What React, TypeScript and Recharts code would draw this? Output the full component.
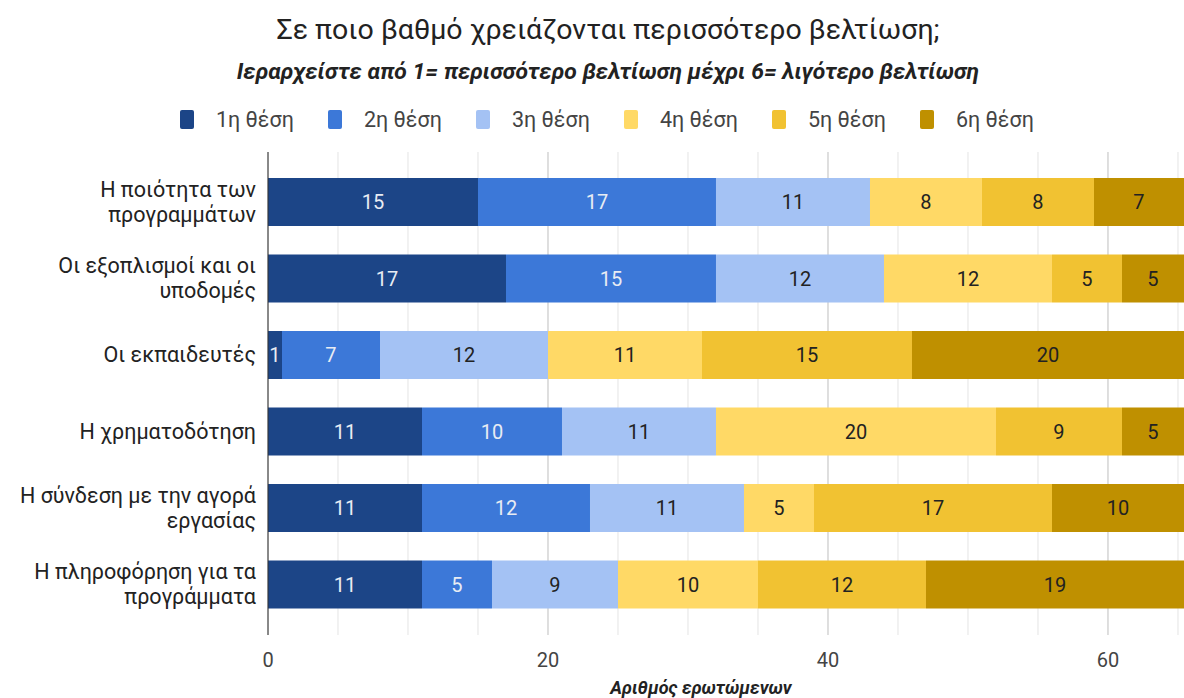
import { BarChart, Bar, XAxis, YAxis, CartesianGrid, Legend, LabelList } from 'recharts';

// Κατηγορίες (οι αλλαγές γραμμής όπως στο πρωτότυπο)
const categories = [
  'Η ποιότητα των\nπρογραμμάτων',
  'Οι εξοπλισμοί και οι\nυποδομές',
  'Οι εκπαιδευτές',
  'Η χρηματοδότηση',
  'Η σύνδεση με την αγορά\nεργασίας',
  'Η πληροφόρηση για τα\nπρογράμματα',
];

const seriesNames = ['1η θέση', '2η θέση', '3η θέση', '4η θέση', '5η θέση', '6η θέση'];
const seriesColors = ['#1c4587', '#3c78d8', '#a4c2f4', '#ffd966', '#f1c232', '#bf9000'];
const labelColors = ['#e8ecf3', '#e8ecf3', '#222222', '#222222', '#222222', '#222222'];

const place1 = [15, 17, 1, 11, 11, 11];
const place2 = [17, 15, 7, 10, 12, 5];
const place3 = [11, 12, 12, 11, 11, 9];
const place4 = [8, 12, 11, 20, 5, 10];
const place5 = [8, 5, 15, 9, 17, 12];
const place6 = [7, 5, 20, 5, 10, 19];

const xTicks = [0, 5, 10, 15, 20, 25, 30, 35, 40, 45, 50, 55, 60, 65];
const xMajorTicks = [0, 20, 40, 60];

const seriesValues = [place1, place2, place3, place4, place5, place6];
const seriesKeys = ['p1', 'p2', 'p3', 'p4', 'p5', 'p6'];

const data = categories.map((name, i) => {
  const row: Record<string, string | number> = { name };
  seriesKeys.forEach((k, s) => {
    row[k] = seriesValues[s][i];
  });
  return row;
});

const FONT = 'Roboto, "Noto Sans", Arial, sans-serif';

// Ετικέτες άξονα Y σε δύο γραμμές
const CategoryTick = ({ x, y, payload }: any) => {
  const lines = String(payload.value).split('\n');
  const lh = 25;
  const start = -((lines.length - 1) * lh) / 2 + 7;
  return (
    <text x={x} y={y} textAnchor="end" fill="#222" fontSize={21.5} fontFamily={FONT}>
      {lines.map((l, i) => (
        <tspan key={i} x={x} dy={i === 0 ? start : lh}>
          {l}
        </tspan>
      ))}
    </text>
  );
};

// Υπόμνημα
const LegendContent = () => (
  <div style={{ display: 'flex', fontFamily: FONT, fontSize: 21.5, color: '#444' }}>
    {seriesNames.map((n, i) => (
      <div key={n} style={{ display: 'flex', alignItems: 'center', width: 148 }}>
        <span
          style={{
            display: 'inline-block',
            width: 14,
            height: 19,
            borderRadius: 2,
            background: seriesColors[i],
            marginRight: 22,
          }}
        />
        <span>{n}</span>
      </div>
    ))}
  </div>
);

function App() {
  return (
    <div style={{ position: 'absolute', left: 0, top: 0, width: 1184, height: 698, background: '#fff' }}>
      {/* Τίτλοι */}
      <div
        style={{
          position: 'absolute',
          left: 32,
          width: 1152,
          top: 12,
          textAlign: 'center',
          fontFamily: FONT,
          fontSize: 28.5,
          lineHeight: '36px',
          color: '#222',
        }}
      >
        Σε ποιο βαθμό χρειάζονται περισσότερο βελτίωση;
      </div>
      <div
        style={{
          position: 'absolute',
          left: 32,
          width: 1152,
          top: 58,
          textAlign: 'center',
          fontFamily: FONT,
          fontSize: 22.9,
          lineHeight: '28px',
          fontWeight: 'bold',
          fontStyle: 'italic',
          color: '#222',
        }}
      >
        Ιεραρχείστε από 1= περισσότερο βελτίωση μέχρι 6= λιγότερο βελτίωση
      </div>

      <BarChart
        width={1184}
        height={698}
        data={data}
        layout="vertical"
        margin={{ top: 152, right: 0, bottom: 23, left: 0 }}
      >
        <CartesianGrid horizontal={false} stroke="#e4e4e4" verticalValues={xTicks} />
        <CartesianGrid horizontal={false} stroke="#cccccc" verticalValues={xMajorTicks} />
        <XAxis
          type="number"
          domain={[0, 65.43]}
          allowDataOverflow
          ticks={xTicks}
          interval={0}
          tickFormatter={(v: number) => (v % 20 === 0 ? String(v) : '')}
          axisLine={false}
          tickLine={false}
          tickMargin={12}
          height={40}
          tick={{ fontSize: 20, fill: '#444', fontFamily: FONT }}
          label={{
            value: 'Αριθμός ερωτώμενων',
            position: 'insideBottom',
            offset: -19,
            dx: -25,
            style: { fontSize: 18, fontWeight: 'bold', fontStyle: 'italic', fill: '#222', fontFamily: FONT },
          }}
        />
        <YAxis
          type="category"
          dataKey="name"
          width={268}
          axisLine={{ stroke: '#333' }}
          tickLine={false}
          tickMargin={6}
          padding={{ top: 12, bottom: 12 }}
          tick={<CategoryTick />}
          interval={0}
        />
        <Legend
          layout="horizontal"
          verticalAlign="middle"
          align="center"
          wrapperStyle={{ top: 107, left: 180, width: 1000 }}
          content={<LegendContent />}
        />
        {seriesKeys.map((k, i) => (
          <Bar key={k} dataKey={k} name={seriesNames[i]} stackId="a" fill={seriesColors[i]} barSize={48} isAnimationActive={false}>
            <LabelList dataKey={k} position="center" fill={labelColors[i]} fontSize={20} fontFamily={FONT} />
          </Bar>
        ))}
      </BarChart>
    </div>
  );
}

export default App;
